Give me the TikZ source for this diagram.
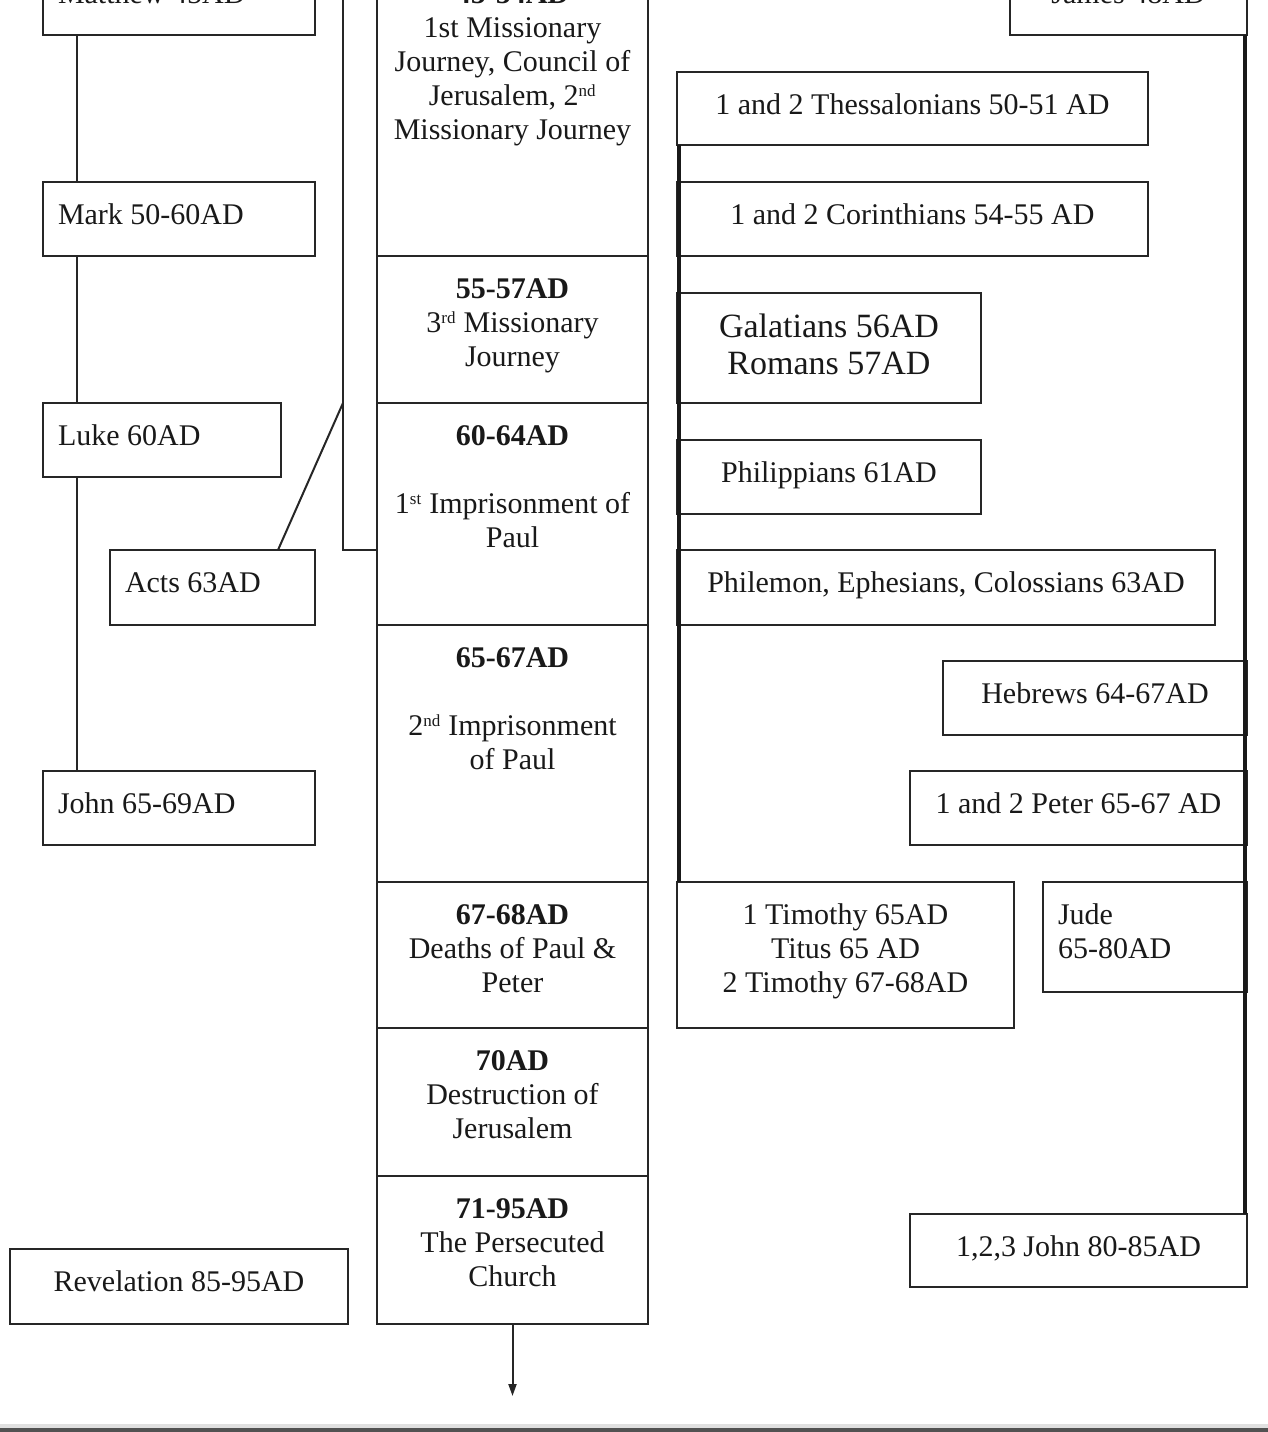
\documentclass[tikz,border=0pt]{standalone}
\usepackage{fontspec}
\setmainfont{Liberation Serif}
\usetikzlibrary{arrows.meta}
\newcommand{\fs}{\fontsize{30}{34}\selectfont}
\newcommand{\gfs}{\fontsize{34}{37}\selectfont}
\newcommand{\sups}[1]{\textsuperscript{{\fontsize{17}{17}\selectfont #1}}}
\newcommand{\mkbox}[7]{%
  \node[box] (#1) at (#2,#3) {\parbox[c][#5pt][t]{#4pt}{\fs\vspace*{19pt}#6\strut #7}};%
}
\newcommand{\lft}{\raggedright\leftskip=15pt\relax}
\tikzset{
  box/.style={draw=black!85, line width=2pt, fill=white, inner sep=0pt, outer sep=0pt, anchor=north west, text=black!90},
  conn/.style={draw=black!85, line width=2pt},
  spine/.style={draw=black!90, line width=3.2pt},
}
\begin{document}
\begin{tikzpicture}[x=1pt,y=-1pt]
\useasboundingbox (0,0) rectangle (1268,1432);
\clip (0,0) rectangle (1268,1432);
\fill[white] (0,0) rectangle (1268,1432);

% left column
\mkbox{mat}{43}{-39}{272}{74}{\lft}{Matthew 45AD}
\mkbox{mark}{43}{182}{272}{74}{\lft}{Mark 50-60AD}
\mkbox{luke}{43}{403}{238}{74}{\lft}{Luke 60AD}
\mkbox{acts}{110}{550}{205}{75}{\lft}{Acts 63AD}
\mkbox{john}{43}{771}{272}{74}{\lft}{John 65-69AD}
\mkbox{rev}{10}{1249}{338}{75}{\centering}{Revelation 85-95AD}

% central column
\mkbox{c1}{377}{-39}{271}{295}{\centering}{\textbf{45-54AD}\\1st Missionary\\Journey, Council of\\Jerusalem, 2\sups{nd}\\Missionary Journey}
\mkbox{c2}{377}{256}{271}{147}{\centering}{\textbf{55-57AD}\\3\sups{rd} Missionary\\Journey}
\mkbox{c3}{377}{403}{271}{222}{\centering}{\textbf{60-64AD}\\[34pt]1\sups{st} Imprisonment of\\Paul}
\mkbox{c4}{377}{625}{271}{257}{\centering}{\textbf{65-67AD}\\[34pt]2\sups{nd} Imprisonment\\of Paul}
\mkbox{c5}{377}{882}{271}{146}{\centering}{\textbf{67-68AD}\\Deaths of Paul \&\\Peter}
\mkbox{c6}{377}{1028}{271}{148}{\centering}{\textbf{70AD}\\Destruction of\\Jerusalem}
\mkbox{c7}{377}{1176}{271}{148}{\centering}{\textbf{71-95AD}\\The Persecuted\\Church}

% right column
\mkbox{james}{1010}{-39}{237}{74}{\centering}{James 48AD}
\mkbox{thess}{677}{72}{471}{73}{\centering}{1 and 2 Thessalonians 50-51 AD}
\mkbox{cor}{677}{182}{471}{74}{\centering}{1 and 2 Corinthians 54-55 AD}
\mkbox{gal}{677}{293}{304}{110}{\gfs\centering}{Galatians 56AD\\Romans 57AD}
\mkbox{phil}{677}{440}{304}{74}{\centering}{Philippians 61AD}
\mkbox{phm}{677}{550}{538}{75}{\centering}{Philemon, Ephesians, Colossians 63AD}
\mkbox{heb}{943}{661}{304}{74}{\centering}{Hebrews 64-67AD}
\mkbox{pet}{910}{771}{337}{74}{\centering}{1 and 2 Peter 65-67 AD}
\mkbox{tim}{677}{882}{337}{146}{\centering}{1 Timothy 65AD\\Titus 65 AD\\2 Timothy 67-68AD}
\mkbox{jude}{1043}{882}{204}{110}{\lft}{Jude\\65-80AD}
\mkbox{jn}{910}{1214}{337}{73}{\centering}{1,2,3 John 80-85AD}

% connectors
\coordinate (L) at (77,0);
\draw[conn] (mat.south -| L) -- (mark.north -| L);
\draw[conn] (mark.south -| L) -- (luke.north -| L);
\draw[conn] (luke.south -| L) -- (john.north -| L);

\coordinate (btop) at (343,-45);
\coordinate (bcorner) at (343,550);
\coordinate (bjoin) at (343,403);
\draw[conn] (btop) -- (bcorner) -- (bcorner -| c3.west);
\draw[conn] ([xshift=168pt]acts.north west) -- (bjoin);

\draw[spine] ([xshift=2pt]thess.south west) -- ([xshift=2pt]tim.north west);
\draw[spine] ([xshift=-2pt]james.south east) -- ([xshift=-2pt]jn.north east);

\coordinate (arrowend) at (512.5,1396);
\draw[conn, -{Triangle[length=12pt,width=8pt]}] (c7.south) -- (arrowend);

% bottom border of the page
\fill[black!12] (0,1424) rectangle (1268,1428);
\fill[black!68] (0,1428) rectangle (1268,1432);
\end{tikzpicture}
\end{document}
